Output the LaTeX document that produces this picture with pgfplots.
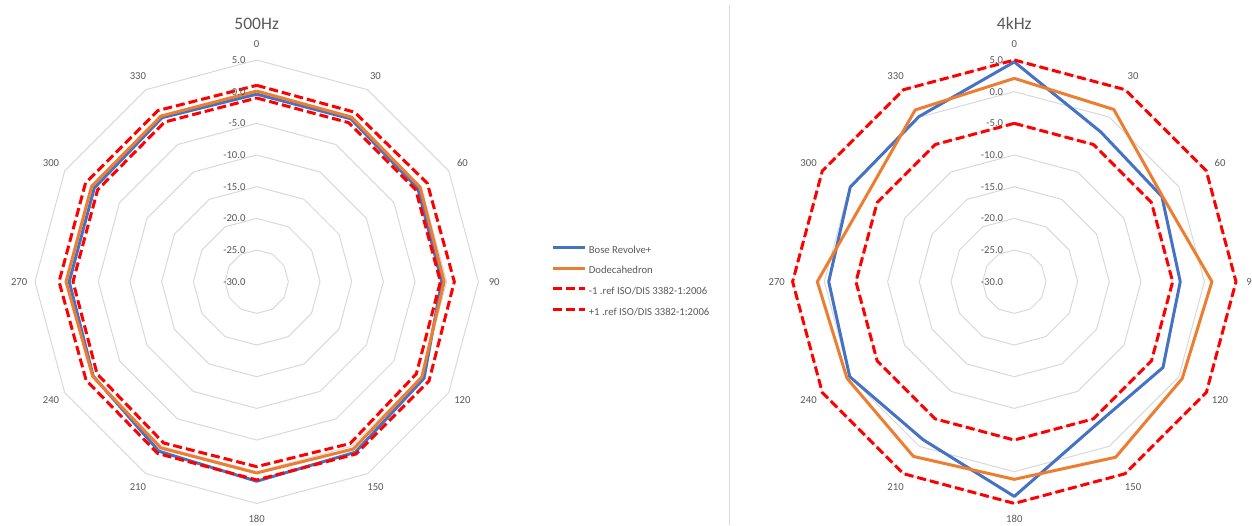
\documentclass[border=0pt]{standalone}
\usepackage{fontspec}
\setmainfont{Carlito}
\usepackage{pgfplots}
\usepackage{pgfplotstable}
\pgfplotsset{compat=1.18}
\usepgfplotslibrary{polar}

\definecolor{bose}{RGB}{68,114,196}
\definecolor{dodec}{RGB}{237,125,49}
\definecolor{gridgray}{RGB}{217,217,217}
\definecolor{txt}{RGB}{89,89,89}

% angle  bose  dodec  lo  hi  (dB)
\pgfplotstableread{
angle bose dodec lo hi
0    -0.4  0.1 -1.0 1.0
30   -0.3  0.0 -1.0 0.9
60   -0.6 -0.2 -1.0 1.1
90   -0.8 -0.4 -1.0 1.2
120   0.5  0.1 -0.9 1.4
150   1.1  0.5 -0.5 1.4
180   1.5  0.2 -0.8 1.3
210   0.9  0.3 -0.6 1.3
240  -0.2 -0.1 -0.9 1.1
270  -0.4  0.1 -1.0 1.2
300  -0.4  0.1 -1.0 1.2
330  -0.1  0.2 -0.9 1.2
360  -0.4  0.1 -1.0 1.0
}\lowtab

\pgfplotstableread{
angle bose dodec lo hi
0     4.7  2.1 -5.0 5.0
30   -2.7  1.4 -5.0 5.0
60   -3.1 -3.0 -5.0 5.0
90   -3.8  1.2 -5.0 5.0
120  -2.9  0.6 -5.0 5.0
150  -4.0  2.0 -5.0 5.0
180   3.9  1.2 -5.0 5.0
210  -1.2  1.85 -5.0 5.0
240   0.0  0.5 -5.0 5.0
270  -0.7  1.1 -5.0 5.0
300  -0.1 -3.0 -5.0 5.0
330   0.1  1.3 -5.0 5.0
360   4.7  2.1 -5.0 5.0
}\hightab

\pgfplotsset{
  radar/.style={
    hide axis, scale only axis, width=443.4pt, height=443.4pt,
    xmin=0, xmax=360, ymin=0, ymax=35, clip=false,
    x filter/.expression={90-x}, y filter/.expression={y+30},
    title style={font=\fontsize{17.5}{20}\selectfont, text=txt,
      at={(0.5,1)}, anchor=center, yshift=22pt},
  },
  ring/.style={gridgray, line width=1pt, forget plot},
  meas/.style={line width=3pt, line join=round},
  lim/.style={red, line width=3pt, dash pattern=on 9pt off 4pt, line join=round},
}

\newcommand\rings{%
  \pgfplotsinvokeforeach{-25,-20,-15,-10,-5,0,5}{
    \addplot[ring] coordinates {(0,##1) (30,##1) (60,##1) (90,##1) (120,##1)
      (150,##1) (180,##1) (210,##1) (240,##1) (270,##1) (300,##1) (330,##1) (360,##1)};
  }}

\newcommand\radarlabels{%
  \begin{scope}[font=\fontsize{10.67}{12}\selectfont, text=txt]
  \node[anchor=east, inner sep=0pt, xshift=-11pt] at (axis cs:90,35) {5.0};
  \node[anchor=east, inner sep=0pt, xshift=-11pt] at (axis cs:90,30) {0.0};
  \node[anchor=east, inner sep=0pt, xshift=-11pt] at (axis cs:90,25) {-5.0};
  \node[anchor=east, inner sep=0pt, xshift=-11pt] at (axis cs:90,20) {-10.0};
  \node[anchor=east, inner sep=0pt, xshift=-11pt] at (axis cs:90,15) {-15.0};
  \node[anchor=east, inner sep=0pt, xshift=-11pt] at (axis cs:90,10) {-20.0};
  \node[anchor=east, inner sep=0pt, xshift=-11pt] at (axis cs:90,5) {-25.0};
  \node[anchor=east, inner sep=0pt, xshift=-11pt] at (axis cs:90,0) {-30.0};
  \node at (axis cs:90,37.5) {0};
  \node at (axis cs:60,37.5) {30};
  \node at (axis cs:30,37.5) {60};
  \node at (axis cs:0,37.5) {90};
  \node at (axis cs:-30,37.5) {120};
  \node at (axis cs:-60,37.5) {150};
  \node at (axis cs:-90,37.5) {180};
  \node at (axis cs:-120,37.5) {210};
  \node at (axis cs:-150,37.5) {240};
  \node at (axis cs:180,37.5) {270};
  \node at (axis cs:150,37.5) {300};
  \node at (axis cs:120,37.5) {330};
  \end{scope}}

\begin{document}
\begin{tikzpicture}
\path[use as bounding box] (0pt,0pt) rectangle (1252pt,525pt);
\draw[gridgray, line width=1pt] (729pt,0pt) -- (729pt,520pt);

\begin{polaraxis}[radar, at={(256.7pt,243.3pt)}, anchor=center, title={500Hz},
  legend style={at={(1.1644,0.5)}, anchor=west, draw=none, fill=none,
    font=\fontsize{10.67}{12}\selectfont, text=txt, inner sep=0pt, row sep=10.7pt,
    nodes={inner xsep=2pt, inner ysep=0pt, text height=7.5pt, text depth=2.5pt}},
  legend cell align=left,
  legend image code/.code={\draw[#1] (0pt,3.3pt) -- (32.4pt,3.3pt);}]
\rings
\addplot[meas, bose] table[x=angle, y=bose] {\lowtab};
\addlegendentry{Bose Revolve+}
\addplot[meas, dodec] table[x=angle, y=dodec] {\lowtab};
\addlegendentry{Dodecahedron}
\addplot[lim] table[x=angle, y=lo] {\lowtab};
\addlegendentry{-1 .ref ISO/DIS 3382-1:2006}
\addplot[lim] table[x=angle, y=hi] {\lowtab};
\addlegendentry{+1 .ref ISO/DIS 3382-1:2006}
\radarlabels
\end{polaraxis}

\begin{polaraxis}[radar, at={(1014.3pt,243.3pt)}, anchor=center, title={4kHz}]
\rings
\addplot[meas, bose] table[x=angle, y=bose] {\hightab};
\addplot[meas, dodec] table[x=angle, y=dodec] {\hightab};
\addplot[lim] table[x=angle, y=lo] {\hightab};
\addplot[lim] table[x=angle, y=hi] {\hightab};
\radarlabels
\end{polaraxis}
\end{tikzpicture}
\end{document}
